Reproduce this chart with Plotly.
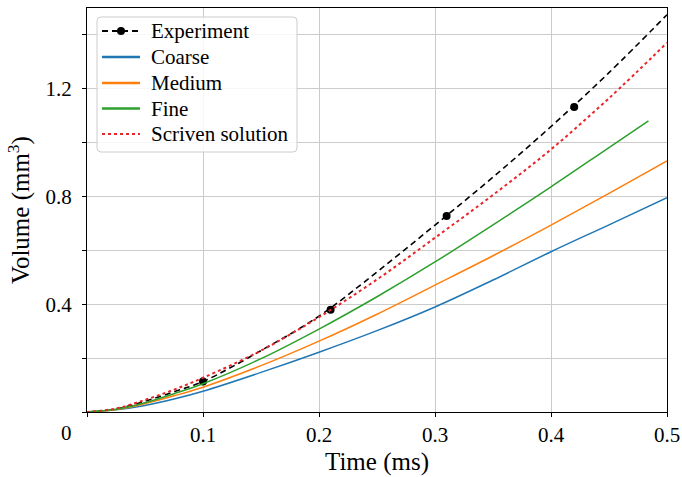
import plotly.graph_objects as go

# Sample times (ms) for the simulated / analytical curves
t = [0, 0.025, 0.05, 0.075, 0.1, 0.15, 0.2, 0.25, 0.3, 0.35, 0.4, 0.45, 0.5]

# Volume (mm^3)
coarse = [0, 0.008, 0.024, 0.048, 0.077, 0.147, 0.222, 0.302, 0.390, 0.490, 0.595, 0.695, 0.796]
medium = [0, 0.009, 0.031, 0.060, 0.092, 0.172, 0.263, 0.363, 0.471, 0.580, 0.694, 0.812, 0.932]
t_fine = [0, 0.025, 0.05, 0.075, 0.1, 0.15, 0.2, 0.25, 0.3, 0.35, 0.4, 0.45, 0.484]
fine = [0, 0.010, 0.034, 0.068, 0.105, 0.198, 0.308, 0.428, 0.557, 0.695, 0.836, 0.982, 1.081]
scriven = [0, 0.013, 0.045, 0.083, 0.127, 0.228, 0.352, 0.492, 0.647, 0.806, 0.975, 1.165, 1.371]
exp_fit = [0, 0.011, 0.040, 0.075, 0.113, 0.228, 0.356, 0.520, 0.694, 0.872, 1.060, 1.260, 1.475]

# Measured points
t_exp = [0.1, 0.21, 0.31, 0.42]
v_exp = [0.113, 0.380, 0.728, 1.132]

x_ticks = [0.1, 0.2, 0.3, 0.4, 0.5]
x_ticklabels = ["0.1", "0.2", "0.3", "0.4", "0.5"]
y_ticks = [0.4, 0.8, 1.2]
y_ticklabels = ["0.4", "0.8", "1.2"]

legend_names = ["Experiment", "Coarse", "Medium", "Fine", "Scriven solution"]
legend_colors = ["black", "#1f77b4", "#ff7f0e", "#2ca02c", "#e8262a"]
legend_dash = ["6px,4px", "solid", "solid", "solid", "dot"]

FONT = "Liberation Serif"
GRID = "#cbcbcb"
W, H = 682, 477
ML, MR, MT, MB = 87, 15, 8, 65
PW, PH = W - ML - MR, H - MT - MB


def px(x):
    return (x - ML) / PW


def py(y):
    return (H - MB - y) / PH


fig = go.Figure()

fig.add_trace(go.Scatter(x=t, y=exp_fit, mode="lines", name="Experiment",
                         line=dict(color="black", width=1.6, dash="6px,4px", shape="spline")))
fig.add_trace(go.Scatter(x=t_exp, y=v_exp, mode="markers", name="Experiment",
                         marker=dict(color="black", size=8)))
fig.add_trace(go.Scatter(x=t, y=coarse, mode="lines", name="Coarse",
                         line=dict(color="#1f77b4", width=1.5, shape="spline")))
fig.add_trace(go.Scatter(x=t, y=medium, mode="lines", name="Medium",
                         line=dict(color="#ff7f0e", width=1.5, shape="spline")))
fig.add_trace(go.Scatter(x=t_fine, y=fine, mode="lines", name="Fine",
                         line=dict(color="#2ca02c", width=1.5, shape="spline")))
fig.add_trace(go.Scatter(x=t, y=scriven, mode="lines", name="Scriven solution",
                         line=dict(color="#e8262a", width=2, dash="dot", shape="spline")))

fig.update_layout(
    width=W, height=H,
    margin=dict(l=ML, r=MR, t=MT, b=MB, autoexpand=False),
    paper_bgcolor="white", plot_bgcolor="white",
    font=dict(family=FONT, size=21, color="black"),
    showlegend=False,
)

fig.update_xaxes(
    range=[0, 0.5],
    tickvals=x_ticks, ticktext=x_ticklabels,
    ticks="outside", ticklen=4, tickcolor="black",
    minor=dict(tickvals=[0], ticks="outside", ticklen=4, tickcolor="black", showgrid=False),
    showgrid=True, gridcolor=GRID, gridwidth=1,
    showline=True, linecolor="black", linewidth=1.3, mirror=True,
    zeroline=False, automargin=False,
    tickfont=dict(family=FONT, size=21),
    title=dict(text="Time (ms)", font=dict(family=FONT, size=25), standoff=6),
)
fig.update_yaxes(
    range=[0, 1.5],
    tickvals=y_ticks, ticktext=y_ticklabels,
    ticks="outside", ticklen=4, tickcolor="black",
    showgrid=True, gridcolor=GRID, gridwidth=1,
    minor=dict(tickvals=[0, 0.2, 0.6, 1.0, 1.4], ticks="outside", ticklen=4, tickcolor="black",
               showgrid=True, gridcolor=GRID, gridwidth=1),
    showline=True, linecolor="black", linewidth=1.3, mirror=True,
    zeroline=False, automargin=False, ticklabelstandoff=6,
    tickfont=dict(family=FONT, size=21),
    title=dict(text="Volume (mm<sup>3</sup>)", font=dict(family=FONT, size=25), standoff=8),
)

# origin label shared by both axes
fig.add_annotation(text="0", x=0, xref="paper", y=0, yref="y",
                   xanchor="right", yanchor="middle", xshift=-13, yshift=-21,
                   showarrow=False, font=dict(family=FONT, size=21, color="black"))

# Legend box (rounded rectangle) in the upper-left corner of the axes
bx0, bx1, by0, by1, r = 97, 297, 17, 152, 4
x0, x1, yT, yB = px(bx0), px(bx1), py(by0), py(by1)
rx, ry = r / PW, r / PH
path = (f"M {x0+rx},{yT} L {x1-rx},{yT} Q {x1},{yT} {x1},{yT-ry} L {x1},{yB+ry} "
        f"Q {x1},{yB} {x1-rx},{yB} L {x0+rx},{yB} Q {x0},{yB} {x0},{yB+ry} "
        f"L {x0},{yT-ry} Q {x0},{yT} {x0+rx},{yT} Z")
fig.add_shape(type="path", path=path, xref="paper", yref="paper",
              fillcolor="rgba(255,255,255,0.85)", line=dict(color="#cccccc", width=1), layer="above")

row_y = [31, 57, 83, 108.5, 134]
for name, color, dash, yy in zip(legend_names, legend_colors, legend_dash, row_y):
    fig.add_shape(type="line", xref="paper", yref="paper",
                  x0=px(102), x1=px(140), y0=py(yy), y1=py(yy),
                  line=dict(color=color, width=2 if dash != "solid" else 2.5, dash=dash), layer="above")
    fig.add_annotation(text=name, xref="paper", yref="paper", x=px(149), y=py(yy),
                       xanchor="left", yanchor="middle", showarrow=False,
                       font=dict(family=FONT, size=21, color="black"))
# marker of the experiment entry
fig.add_shape(type="circle", xref="paper", yref="paper",
              x0=px(117), x1=px(125), y0=py(row_y[0] + 4), y1=py(row_y[0] - 4),
              fillcolor="black", line=dict(color="black", width=0), layer="above")

fig.write_html("out.html")
